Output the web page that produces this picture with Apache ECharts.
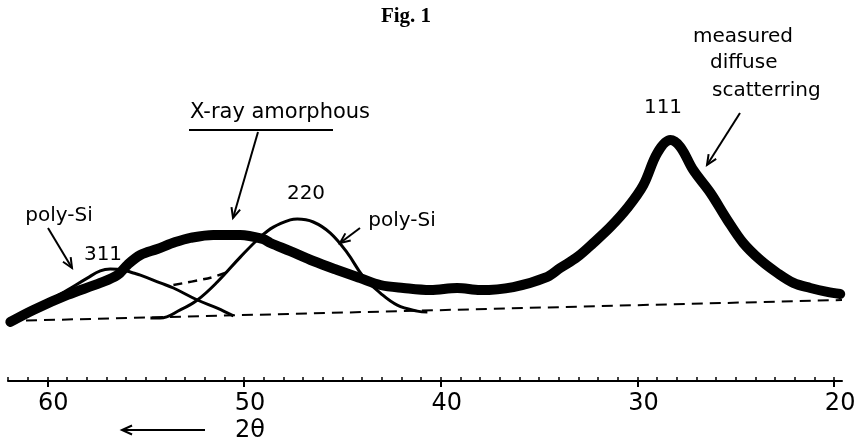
<!DOCTYPE html>
<html>
<head>
<meta charset="utf-8">
<title>Fig. 1</title>
<script src="https://cdn.jsdelivr.net/npm/echarts@6/dist/echarts.min.js"></script>
<style>html,body{margin:0;padding:0;background:#fff;}</style>
</head>
<body>
<div id="main" style="width:854px;height:444px;"></div>
<script>
// 2θ (deg) and intensity (arb. units)
var measuredX = [61.88, 60.71, 58.98, 57.31, 56.44, 55.93, 55.27, 54.41, 53.49, 52.73, 51.56, 50.19, 49.02, 48.66, 47.65, 46.48, 45.26, 44.09, 43.07, 41.90, 40.53, 39.16, 37.99, 36.31, 34.58, 33.92, 33.06, 32.24, 31.38, 30.51, 29.70, 28.99, 28.33, 27.82, 27.16, 26.29, 25.43, 24.62, 23.75, 22.89, 22.07, 21.21, 20.35, 19.69];
var measuredY = [19.7, 23.7, 28.7, 32.7, 35.3, 38.7, 42.0, 44.0, 46.3, 47.7, 48.7, 48.7, 47.3, 46.0, 43.3, 40.0, 37.0, 34.3, 32.0, 31.0, 30.3, 31.0, 30.3, 31.3, 34.7, 37.7, 41.3, 46.0, 51.3, 57.7, 65.3, 76.0, 80.3, 78.0, 70.3, 62.7, 53.7, 46.0, 40.3, 36.0, 32.7, 31.0, 29.7, 29.0];

var peak311X = [61.78, 60.71, 59.85, 58.98, 57.97, 57.31, 56.80, 56.14, 55.63, 55.27, 54.26, 53.59, 52.37, 51.36, 50.54];
var peak311Y = [20.0, 23.3, 27.0, 30.3, 34.3, 36.7, 37.3, 37.0, 36.0, 35.3, 32.7, 31.0, 27.0, 24.3, 21.7];

var peak220X = [54.76, 54.26, 53.24, 52.37, 51.36, 50.19, 49.17, 48.51, 47.65, 47.29, 46.48, 45.61, 44.75, 43.93, 43.07, 42.21, 41.19, 40.68];
var peak220Y = [21.0, 21.0, 23.7, 27.0, 33.0, 41.3, 48.0, 51.3, 53.7, 54.0, 53.0, 49.3, 42.7, 34.7, 29.3, 25.3, 23.3, 23.0];

var sumX = [53.59, 52.22, 51.56, 50.85];
var sumY = [32.0, 33.7, 34.7, 36.3];

var baselineX = [62, 19.6];
var baselineY = [20.0, 27.0];

var majorTicks = [60, 50, 40, 30, 20];
var minorTicks = [];
for (var t = 20; t <= 62; t++) minorTicks.push(t);

function pairs(xs, ys) {
  return xs.map(function (x, i) { return [x, ys[i]]; });
}

// open V arrow from (x1,y1) pointing at (x2,y2)
function arrow(x1, y1, x2, y2) {
  var a = Math.atan2(y2 - y1, x2 - x1), L = 11, s = 0.42;
  return {
    type: 'group',
    children: [
      { type: 'line', shape: { x1: x1, y1: y1, x2: x2, y2: y2 }, style: { stroke: '#000', lineWidth: 2 } },
      { type: 'polyline', shape: { points: [
          [x2 - L * Math.cos(a - s), y2 - L * Math.sin(a - s)], [x2, y2],
          [x2 - L * Math.cos(a + s), y2 - L * Math.sin(a + s)]] },
        style: { stroke: '#000', lineWidth: 2, fill: null } }
    ]
  };
}

function label(text, x, y, size, align) {
  return { type: 'text', x: x, y: y, style: {
    text: text, fill: '#000', fontSize: size || 20, fontFamily: 'DejaVu Sans',
    textAlign: align || 'center', textVerticalAlign: 'middle' } };
}

var myChart = echarts.init(document.getElementById('main'));

var option = {
  backgroundColor: '#fff',
  animation: false,
  grid: { left: 8, right: 12, top: 81, bottom: 63, containLabel: false, outerBoundsMode: 'none' },
  xAxis: [{
    type: 'value', min: 19.6, max: 62, inverse: true, position: 'bottom',
    splitLine: { show: false },
    axisLine: { show: true, lineStyle: { color: '#000', width: 2 } },
    axisTick: { show: true, inside: true, length: 4, customValues: minorTicks, lineStyle: { color: '#000', width: 1.5 } },
    axisLabel: { show: true, customValues: majorTicks, margin: 11, color: '#000',
      fontFamily: 'DejaVu Sans', fontSize: 24, padding: [0, 0, 0, 12] }
  }, {
    type: 'value', min: 19.6, max: 62, inverse: true, position: 'bottom',
    splitLine: { show: false },
    axisLine: { show: false },
    axisTick: { show: true, length: 6, customValues: majorTicks, lineStyle: { color: '#000', width: 2 } },
    axisLabel: { show: false }
  }],
  yAxis: { type: 'value', min: 0, max: 100, show: false, splitLine: { show: false } },
  series: [{
    name: 'baseline', type: 'line', symbol: 'none', data: pairs(baselineX, baselineY),
    lineStyle: { color: '#000', width: 2, type: [11, 7] }
  }, {
    name: 'poly-Si 311', type: 'line', symbol: 'none', smooth: 0.4, data: pairs(peak311X, peak311Y),
    lineStyle: { color: '#000', width: 3 }
  }, {
    name: 'poly-Si 220', type: 'line', symbol: 'none', smooth: 0.4, data: pairs(peak220X, peak220Y),
    lineStyle: { color: '#000', width: 3 }
  }, {
    name: 'sum', type: 'line', symbol: 'none', smooth: 0.4, data: pairs(sumX, sumY),
    lineStyle: { color: '#000', width: 2.5, type: [9, 6] }
  }, {
    name: 'measured diffuse scatterring', type: 'line', symbol: 'none', smooth: 0.35,
    data: pairs(measuredX, measuredY),
    lineStyle: { color: '#000', width: 10, cap: 'round', join: 'round' }
  }],
  graphic: [
    { type: 'text', x: 406, y: 17, style: { text: 'Fig. 1', fill: '#000', fontSize: 21,
      fontWeight: 'bold', fontFamily: 'Liberation Serif', textAlign: 'center', textVerticalAlign: 'middle' } },
    label('poly-Si', 59, 216),
    arrow(48, 228, 72, 268),
    label('311', 103, 255),
    label('X-ray amorphous', 280, 113, 21),
    { type: 'line', shape: { x1: 189, y1: 130, x2: 333, y2: 130 }, style: { stroke: '#000', lineWidth: 2 } },
    arrow(258, 132, 233, 218),
    label('220', 306, 194),
    label('poly-Si', 402, 221),
    arrow(360, 228, 340, 243),
    label('111', 663, 108),
    label('measured', 693, 37, 20, 'left'),
    label('diffuse', 710, 63, 20, 'left'),
    label('scatterring', 712, 91, 20, 'left'),
    arrow(740, 113, 707, 165),
    arrow(205, 430, 122, 430),
    label('2θ', 250, 431, 24)
  ]
};

myChart.setOption(option);
</script>
</body>
</html>
